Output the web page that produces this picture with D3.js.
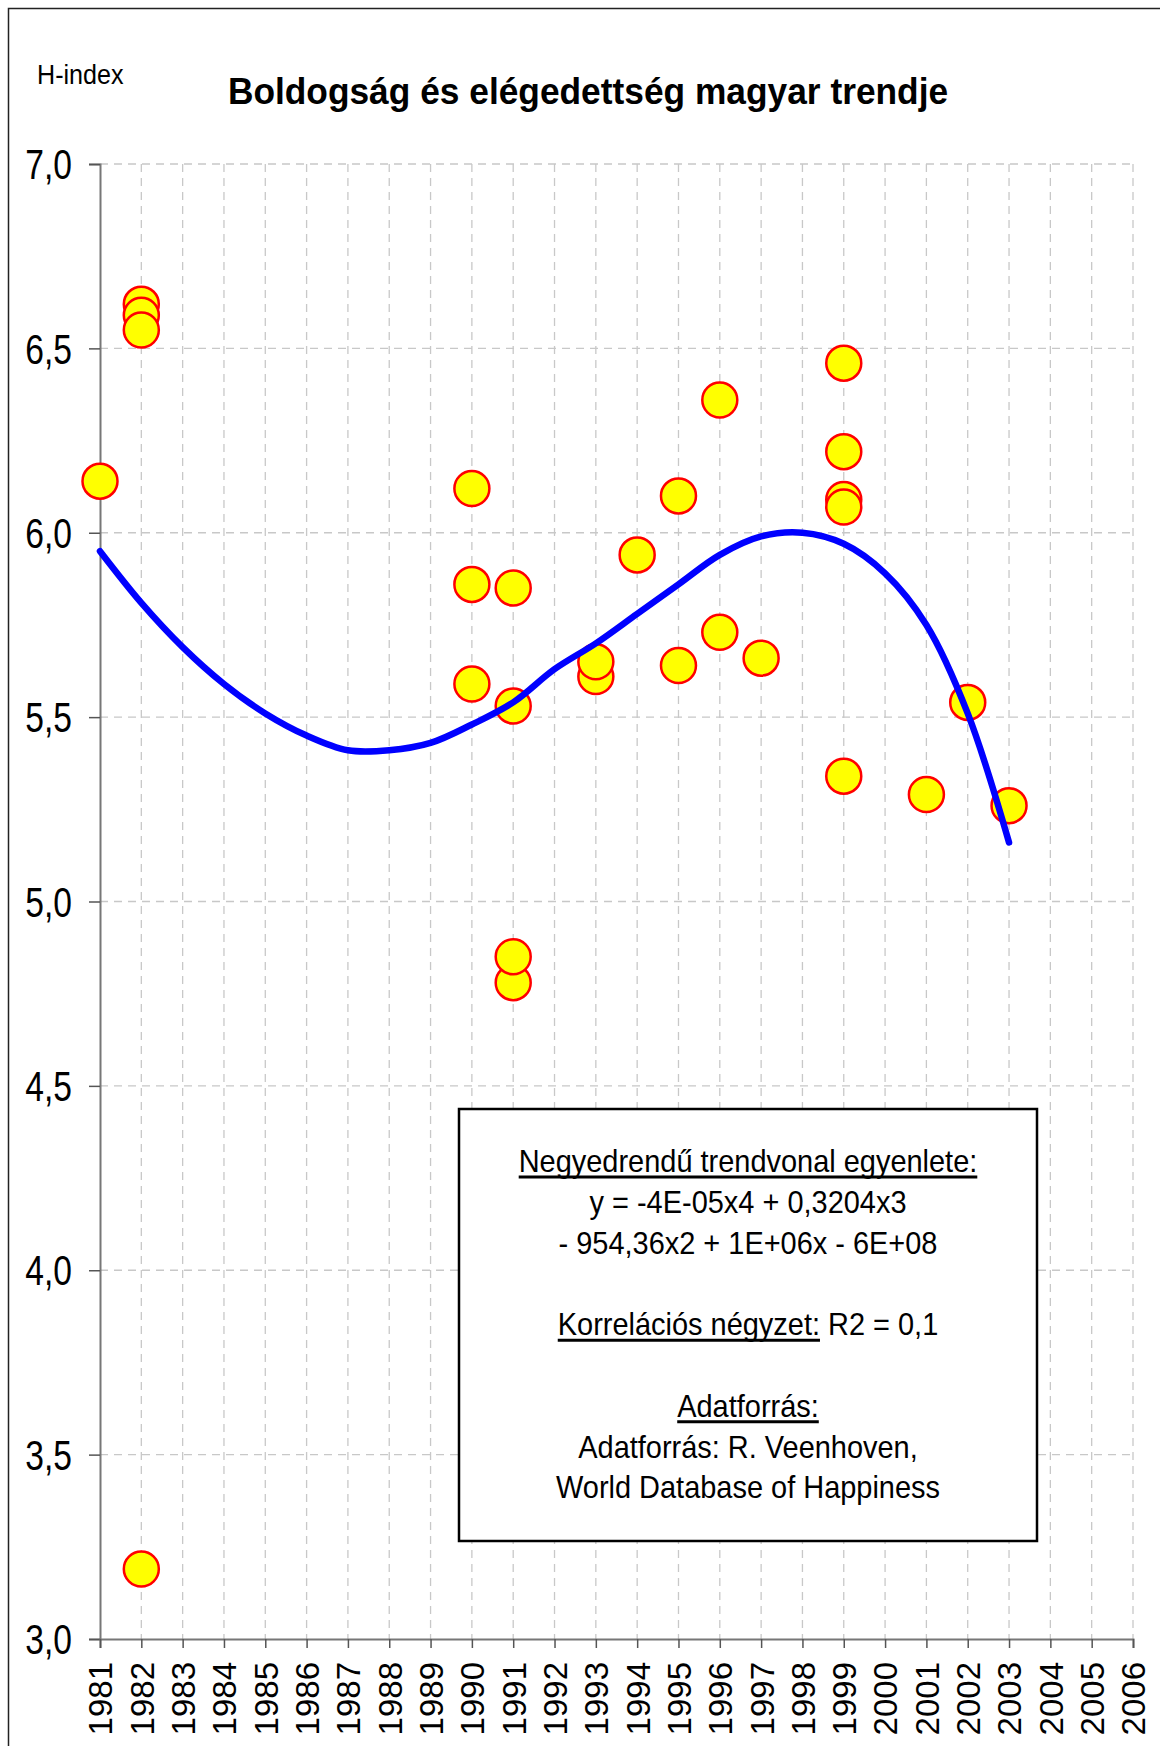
<!DOCTYPE html>
<html>
<head>
<meta charset="utf-8">
<script src="https://cdn.jsdelivr.net/npm/d3@7"></script>
<style>
  html, body { margin: 0; padding: 0; background: #fff; }
  svg { display: block; }
</style>
</head>
<body>
<script>
// ---- Data ----
const pointYears  = [1981, 1982, 1982, 1982, 1982, 1990, 1990, 1990, 1991, 1991, 1991, 1991, 1993, 1993, 1994, 1995, 1995, 1996, 1996, 1997, 1999, 1999, 1999, 1999, 1999, 2001, 2002, 2003];
const pointValues = [6.14, 6.62, 6.59, 6.55, 3.19, 6.12, 5.86, 5.59, 5.85, 5.53, 4.78, 4.85, 5.61, 5.65, 5.94, 6.10, 5.64, 6.36, 5.73, 5.66, 6.46, 6.22, 6.09, 6.07, 5.34, 5.29, 5.54, 5.26];

const trendYears  = [1981, 1982, 1983, 1984, 1985, 1986, 1987, 1988, 1989, 1990, 1991, 1992, 1993, 1994, 1995, 1996, 1997, 1998, 1999, 2000, 2001, 2002, 2003];
const trendValues = [5.95, 5.81, 5.69, 5.59, 5.51, 5.45, 5.41, 5.41, 5.43, 5.48, 5.54, 5.63, 5.70, 5.78, 5.86, 5.94, 5.99, 6.00, 5.97, 5.89, 5.75, 5.51, 5.16];

const xTickYears = d3.range(1981, 2007);
const yTickValues = [3.0, 3.5, 4.0, 4.5, 5.0, 5.5, 6.0, 6.5, 7.0];

const titleText = "Boldogság és elégedettség magyar trendje";
const yAxisLabel = "H-index";
const boxLines = [
  {parts: [{t: "Negyedrendű trendvonal egyenlete:", u: true}]},
  {parts: [{t: "y = -4E-05x4 + 0,3204x3", u: false}]},
  {parts: [{t: "- 954,36x2 + 1E+06x - 6E+08", u: false}]},
  {parts: []},
  {parts: [{t: "Korrelációs négyzet:", u: true}, {t: " R2 = 0,1", u: false}]},
  {parts: []},
  {parts: [{t: "Adatforrás:", u: true}]},
  {parts: [{t: "Adatforrás: R. Veenhoven,", u: false}]},
  {parts: [{t: "World Database of Happiness", u: false}]}
];

// ---- Layout ----
const W = 1160, H = 1746;
const plot = {left: 100, right: 1133, top: 164, bottom: 1639};
const font = "'Liberation Sans', Arial, sans-serif";

const svg = d3.select("body").append("svg").attr("width", W).attr("height", H);
svg.append("rect").attr("width", W).attr("height", H).attr("fill", "#fff");
// outer frame
svg.append("rect").attr("x", 8.5).attr("y", 8.5).attr("width", 1300).attr("height", 1900)
  .attr("fill", "none").attr("stroke", "#222").attr("stroke-width", 1.5);

const x = d3.scaleLinear().domain([1981, 2006]).range([plot.left, plot.right]);
const y = d3.scaleLinear().domain([3, 7]).range([plot.bottom, plot.top]);

// grid
const grid = svg.append("g").attr("stroke", "#c8c8c8").attr("stroke-width", 1.3).attr("stroke-dasharray", "8,6");
grid.selectAll("line.v").data(xTickYears.filter(d => d > 1981)).join("line")
  .attr("x1", d => x(d)).attr("x2", d => x(d)).attr("y1", plot.top).attr("y2", plot.bottom);
grid.selectAll("line.h").data(yTickValues.filter(d => d > 3)).join("line")
  .attr("x1", plot.left).attr("x2", plot.right).attr("y1", d => y(d)).attr("y2", d => y(d));

// axes
const yAxis = d3.axisLeft(y).tickValues(yTickValues).tickSize(11).tickPadding(0)
  .tickFormat(d => d3.format(".1f")(d).replace(".", ","));
const gy = svg.append("g").attr("transform", `translate(${plot.left},0)`).call(yAxis);
gy.select(".domain").attr("stroke", "#777").attr("stroke-width", 2);
gy.selectAll(".tick line").attr("stroke", "#555").attr("stroke-width", 1.5);
gy.selectAll(".tick text").attr("font-family", font).attr("font-size", 42).attr("fill", "#000")
  .attr("x", 0).attr("dy", "0.35em").attr("transform", "translate(-28,0) scale(0.8,1)");

const xAxis = d3.axisBottom(x).tickValues(xTickYears).tickSize(9).tickFormat(d => String(d));
const gx = svg.append("g").attr("transform", `translate(0,${plot.bottom})`).call(xAxis);
gx.select(".domain").attr("stroke", "#777").attr("stroke-width", 2);
gx.selectAll(".tick line").attr("stroke", "#555").attr("stroke-width", 1.5);
gx.selectAll(".tick text").attr("font-family", font).attr("font-size", 33).attr("fill", "#000")
  .attr("text-anchor", "end").attr("transform", "rotate(-90)")
  .attr("x", -23).attr("y", 0).attr("dy", "0.36em");

// points
svg.append("g").selectAll("circle").data(pointYears.map((d, i) => [d, pointValues[i]])).join("circle")
  .attr("cx", d => x(d[0])).attr("cy", d => y(d[1])).attr("r", 17.5)
  .attr("fill", "#ffff00").attr("stroke", "#ff0000").attr("stroke-width", 2.5);

// trend line
const line = d3.line().x(d => x(d[0])).y(d => y(d[1])).curve(d3.curveCatmullRom);
svg.append("path").datum(trendYears.map((d, i) => [d, trendValues[i]]))
  .attr("d", line).attr("fill", "none").attr("stroke", "#0000ff").attr("stroke-width", 6.5)
  .attr("stroke-linecap", "round").attr("stroke-linejoin", "round");

// title
svg.append("text").attr("transform", "translate(588,104) scale(0.955,1)").attr("text-anchor", "middle")
  .attr("font-family", font).attr("font-weight", "bold").attr("font-size", 37).text(titleText);
svg.append("text").attr("transform", "translate(37,84) scale(0.93,1)")
  .attr("font-family", font).attr("font-size", 27).text(yAxisLabel);

// text box
const box = {x: 459, y: 1109, w: 578, h: 432};
svg.append("rect").attr("x", box.x).attr("y", box.y).attr("width", box.w).attr("height", box.h)
  .attr("fill", "#fff").attr("stroke", "#000").attr("stroke-width", 2.5);
const cx = box.x + box.w / 2;
const lineH = 40.8, firstBase = 1172, sx = 0.905;
const bg = svg.append("g").attr("transform", `translate(${cx},0) scale(${sx},1)`)
  .attr("font-family", font).attr("font-size", 32).attr("fill", "#000");
boxLines.forEach((ln, i) => {
  if (!ln.parts.length) return;
  const t = bg.append("text").attr("x", 0).attr("y", firstBase + i * lineH).attr("text-anchor", "middle");
  ln.parts.forEach(p => t.append("tspan").text(p.t).attr("data-u", p.u ? 1 : 0));
});
// underlines
bg.selectAll("tspan").each(function() {
  if (this.getAttribute("data-u") !== "1") return;
  const txt = this.parentNode;
  const n = this.getNumberOfChars();
  const s = this.getStartPositionOfChar(0);
  const e = this.getEndPositionOfChar(n - 1);
  const yb = +txt.getAttribute("y") + 5;
  bg.append("line").attr("x1", s.x).attr("x2", e.x).attr("y1", yb).attr("y2", yb)
    .attr("stroke", "#000").attr("stroke-width", 3);
});
</script>
</body>
</html>
